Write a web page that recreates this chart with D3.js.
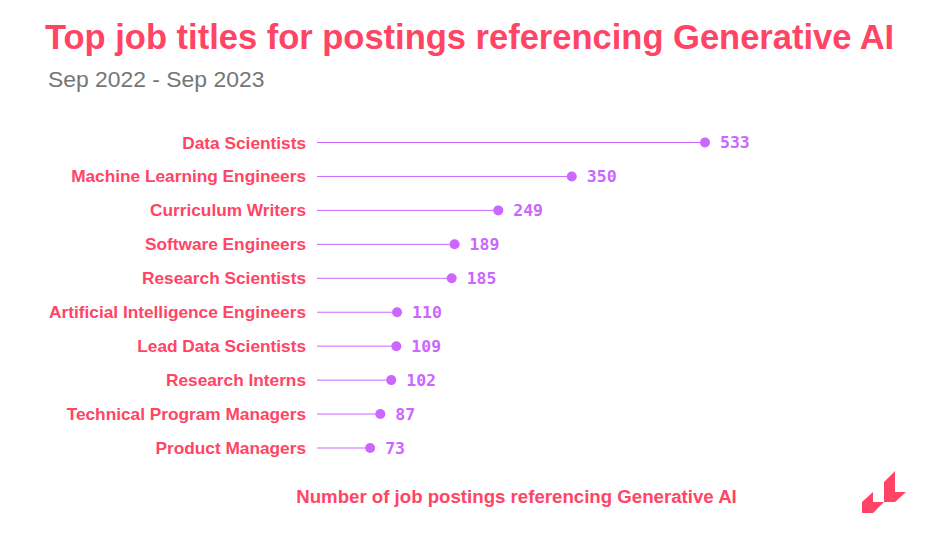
<!DOCTYPE html>
<html lang="en">
<head>
<meta charset="UTF-8">
<script src="https://d3js.org/d3.v7.min.js"></script>
<style>
    html, body { margin: 0; background: white; }
    svg { display: block; font-family: "Liberation Sans", Arial, sans-serif; }
</style>
</head>
<body>
<script>
    const titles = ["Data Scientists", "Machine Learning Engineers", "Curriculum Writers", "Software Engineers", "Research Scientists", "Artificial Intelligence Engineers", "Lead Data Scientists", "Research Interns", "Technical Program Managers", "Product Managers"];
    const postings = [533, 350, 249, 189, 185, 110, 109, 102, 87, 73];

    const pink = "#ff4465";
    const purple = "#cb66ff";

    const svg = d3.select("body").append("svg").attr("width", 938).attr("height", 541);

    svg.append("text").attr("x", 45).attr("y", 49)
        .attr("font-size", 34.5).attr("font-weight", "bold").attr("fill", pink)
        .text("Top job titles for postings referencing Generative AI");
    svg.append("text").attr("x", 48).attr("y", 87)
        .attr("font-size", 22.9).attr("fill", "#767676")
        .text("Sep 2022 - Sep 2023");

    const x = d3.scaleLinear().domain([0, 533]).range([317, 705]);
    const y = d3.scalePoint().domain(titles).range([142, 447.5]);

    // lollipop rows
    const row = svg.selectAll("g.row")
        .data(titles)
        .enter()
        .append("g")
        .attr("class", "row")
        .attr("transform", d => `translate(0,${y(d)})`);

    row.append("line")
        .attr("x1", x(0))
        .attr("x2", (d, i) => x(postings[i]))
        .attr("y1", 0.5)
        .attr("y2", 0.5)
        .attr("stroke", purple)
        .attr("stroke-width", 1);

    row.append("circle")
        .attr("cx", (d, i) => x(postings[i]))
        .attr("cy", 0.5)
        .attr("r", 5)
        .attr("fill", purple);

    row.append("text")
        .attr("x", 306).attr("y", 6.5)
        .attr("text-anchor", "end")
        .attr("font-size", 17.25).attr("font-weight", "bold").attr("fill", pink)
        .text(d => d);

    row.append("text")
        .attr("x", (d, i) => x(postings[i]) + 15).attr("y", 6)
        .attr("font-family", "'DejaVu Sans Mono', monospace")
        .attr("font-size", 16.5).attr("font-weight", "bold").attr("fill", purple)
        .text((d, i) => postings[i]);

    svg.append("text").attr("x", 516.5).attr("y", 503)
        .attr("text-anchor", "middle")
        .attr("font-size", 18.65).attr("font-weight", "bold").attr("fill", pink)
        .text("Number of job postings referencing Generative AI");

    // logo
    const logo = svg.append("g").attr("fill", pink);
    logo.append("path").attr("d", "M862 502L873 492V502H884L873 513H862Z");
    logo.append("path").attr("d", "M884 482L895 471V492H906L895 502H884Z");
</script>
</body>
</html>
